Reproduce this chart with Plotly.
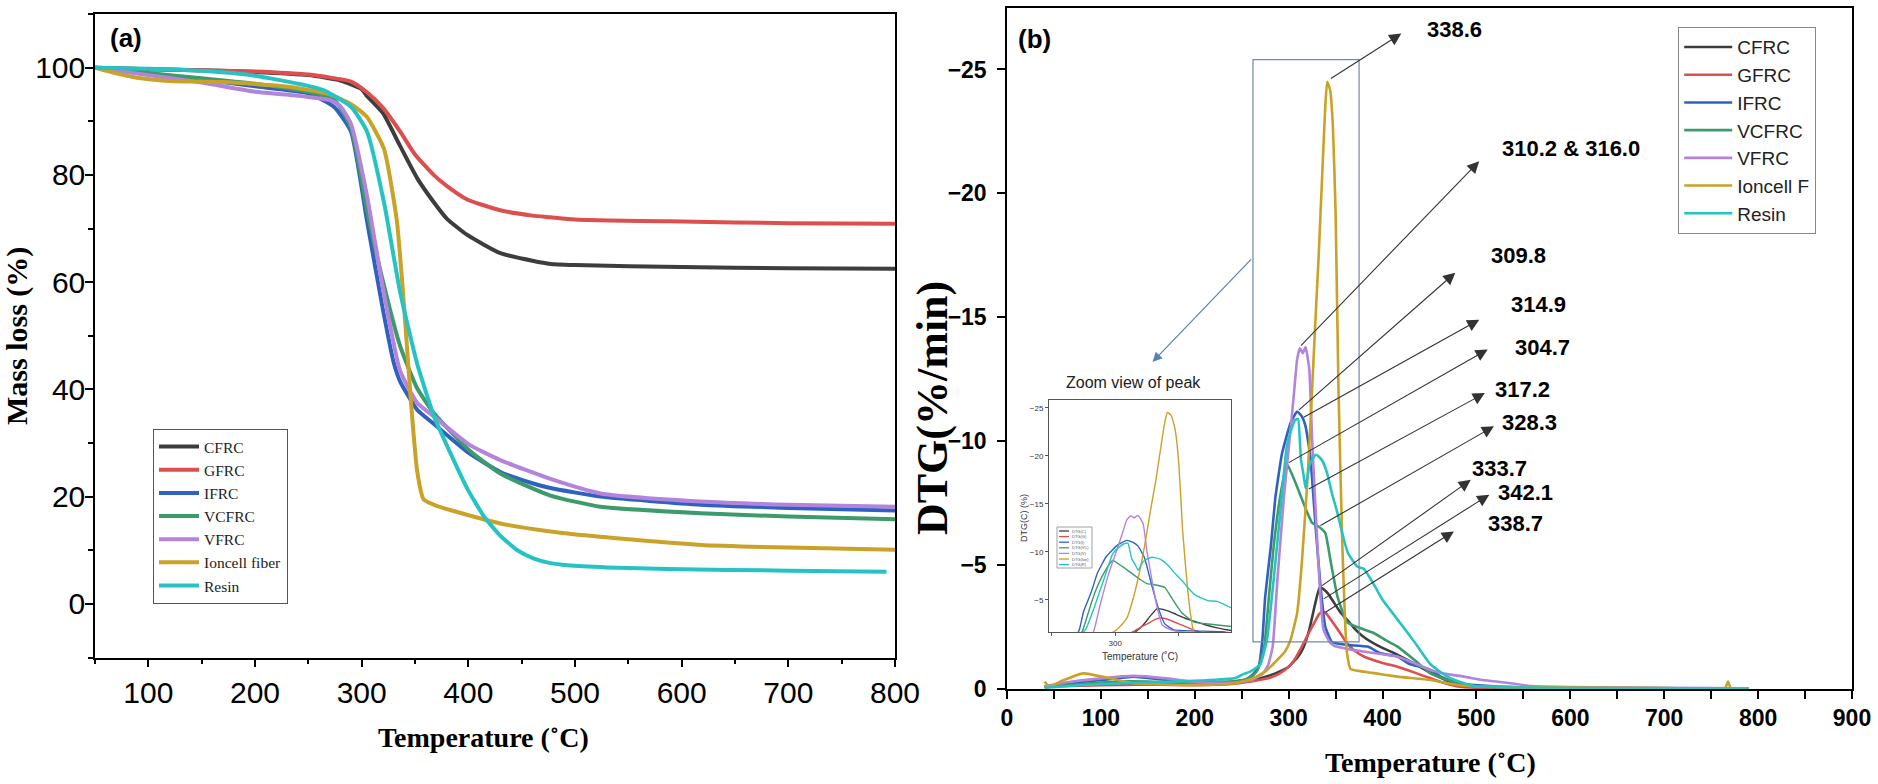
import plotly.graph_objects as go

W, H = 1878, 784

names_a = ["CFRC", "GFRC", "IFRC", "VCFRC", "VFRC", "Ioncell fiber", "Resin"]
names_b = ["CFRC", "GFRC", "IFRC", "VCFRC", "VFRC", "Ioncell F", "Resin"]
names_inset = ["DTG(C)", "DTG(G)", "DTG(I)", "DTG(VC)", "DTG(V)", "DTG(Ion)", "DTG(R)"]
colors = ["#3d3d3d", "#dc4f4f", "#2f62c0", "#3d9a6b", "#b384db", "#c9a227", "#27c3c3"]

# (a) TGA, mass loss (%) vs temperature (C)
tga_cfrc_t = [50, 100, 150, 200, 250, 280, 300, 305, 320, 336, 352, 368, 380, 399, 430, 460, 477, 500, 600, 700, 800]
tga_cfrc = [100, 99.7, 99.5, 99.2, 98.6, 97.6, 96.0, 94.7, 91.5, 85.4, 79.4, 74.8, 71.8, 68.8, 65.4, 64.0, 63.4, 63.2, 62.8, 62.6, 62.5]
tga_gfrc_t = [50, 100, 170, 200, 250, 290, 305, 320, 336, 350, 367, 380, 399, 430, 460, 477, 500, 600, 700, 800]
tga_gfrc = [100, 99.7, 99.4, 99.3, 98.7, 97.4, 95.4, 92.5, 88.1, 83.8, 80.1, 77.9, 75.4, 73.4, 72.4, 72.1, 71.7, 71.3, 71.0, 70.9]
tga_ifrc_t = [50, 75, 100, 150, 200, 250, 274, 290, 305, 320, 330, 336, 352, 368, 400, 430, 460, 477, 524, 618, 700, 800]
tga_ifrc = [100, 99.5, 98.8, 97.8, 96.5, 95.2, 92.7, 88.1, 71.4, 54.8, 45.0, 41.5, 36.2, 33.5, 28.2, 24.6, 22.5, 21.6, 20.0, 18.5, 17.9, 17.4]
tga_vcfrc_t = [50, 100, 150, 200, 250, 274, 290, 305, 320, 336, 352, 368, 400, 430, 477, 524, 618, 700, 800]
tga_vcfrc = [100, 99.0, 98.0, 97.0, 95.5, 94.1, 88.8, 73.4, 60.1, 48.1, 40.2, 35.5, 28.8, 24.3, 20.2, 18.1, 16.9, 16.3, 15.8]
tga_vfrc_t = [50, 100, 150, 200, 233, 271, 280, 290, 305, 320, 336, 352, 368, 400, 430, 477, 524, 618, 700, 800]
tga_vfrc = [100, 98.6, 97.2, 95.5, 94.9, 93.9, 92.8, 89.5, 76.1, 58.8, 43.5, 37.5, 34.9, 29.8, 26.8, 23.3, 20.6, 19.1, 18.5, 18.1]
tga_ion_t = [50, 75, 93, 120, 170, 233, 270, 290, 305, 321, 333, 340, 346, 352, 358, 370, 383, 430, 477, 524, 618, 700, 800]
tga_ion = [100, 98.7, 98.0, 97.5, 97.3, 96.4, 95.0, 93.2, 90.8, 84.8, 71.4, 54.8, 38.2, 24.8, 19.5, 18.3, 17.5, 15.0, 13.5, 12.5, 11.0, 10.5, 10.1]
tga_resin_t = [50, 100, 150, 200, 243, 264, 290, 305, 321, 336, 352, 368, 383, 399, 415, 430, 446, 461, 477, 493, 530, 587, 700, 792]
tga_resin = [100, 99.8, 99.4, 98.5, 96.9, 95.8, 92.7, 88.1, 74.8, 58.2, 44.8, 34.9, 28.2, 21.5, 16.2, 12.7, 10.0, 8.5, 7.6, 7.2, 6.8, 6.5, 6.2, 6.0]

# (b) DTG (%/min) vs temperature (C)
dtg_cfrc_t = [40, 60, 100, 150, 200, 240, 260, 280, 290, 300, 310, 316, 322, 328, 333, 338, 342, 348, 355, 362,
              370, 380, 395, 415, 435, 451, 465, 480, 500, 550, 600, 700, 790]
dtg_cfrc = [-0.1, -0.15, -0.2, -0.22, -0.2, -0.25, -0.35, -0.55, -0.7, -0.9, -1.3, -1.7, -2.4, -3.4, -4.1, -4.0, -3.85,
            -3.5, -3.1, -2.8, -2.45, -2.1, -1.75, -1.4, -1.0, -0.65, -0.4, -0.15, -0.08, -0.05, -0.04, -0.03, -0.02]
dtg_gfrc_t = [40, 60, 100, 150, 200, 240, 260, 280, 291, 300, 306, 316, 322, 327, 332, 336, 340, 345, 355, 362,
              370, 380, 400, 416, 435, 451, 465, 480, 500, 600, 700, 790]
dtg_gfrc = [-0.1, -0.12, -0.15, -0.18, -0.15, -0.2, -0.3, -0.45, -0.64, -0.9, -1.17, -1.85, -2.3, -2.65, -3.0, -3.13,
            -3.05, -2.79, -2.25, -1.85, -1.55, -1.31, -1.05, -0.9, -0.65, -0.43, -0.25, -0.1, -0.05, -0.03, -0.02, -0.02]
dtg_ifrc_t = [40, 60, 100, 135, 170, 200, 240, 255, 262, 268, 272, 275, 281, 286, 293, 302, 309, 314, 318, 323,
              329, 334, 339, 346, 362, 384, 398, 416, 427, 451, 462, 480, 498, 550, 650, 790]
dtg_ifrc = [-0.1, -0.2, -0.36, -0.5, -0.36, -0.25, -0.3, -0.4, -0.6, -0.9, -1.98, -3.73, -5.75, -7.77, -9.52, -10.73,
            -11.2, -11.0, -10.6, -9.4, -6.4, -4.1, -2.52, -1.9, -1.78, -1.71, -1.44, -1.31, -1.04, -0.77, -0.5, -0.23,
            -0.16, -0.06, -0.03, -0.02]
dtg_vcfrc_t = [40, 80, 117, 150, 200, 240, 255, 262, 267, 274, 279, 284, 291, 298, 306, 313, 320, 325, 332, 339,
               345, 352, 362, 373, 391, 402, 416, 434, 451, 480, 500, 550, 650, 790]
dtg_vcfrc = [-0.1, -0.2, -0.3, -0.3, -0.25, -0.3, -0.4, -0.55, -0.77, -1.71, -3.73, -5.75, -7.77, -9.1, -8.44, -7.77,
             -7.1, -6.7, -6.56, -6.3, -5.08, -3.73, -2.7, -2.5, -2.25, -2.0, -1.71, -1.17, -0.63, -0.23, -0.12, -0.06,
             -0.04, -0.02]
dtg_vfrc_t = [40, 60, 100, 135, 170, 206, 242, 260, 272, 278, 283, 288, 295, 302, 306, 309, 312, 315, 318, 322,
              325, 329, 333, 337, 342, 348, 365, 380, 400, 416, 430, 451, 469, 487, 505, 522, 558, 600, 700, 790]
dtg_vfrc = [-0.1, -0.25, -0.43, -0.53, -0.43, -0.26, -0.25, -0.35, -0.6, -0.95, -1.71, -4.4, -7.77, -10.46, -12.08,
            -13.3, -13.75, -13.55, -13.8, -12.9, -10.0, -7.0, -4.2, -2.4, -2.0, -1.75, -1.6, -1.51, -1.4, -1.31, -1.1,
            -0.77, -0.6, -0.5, -0.37, -0.3, -0.12, -0.08, -0.05, -0.03]
dtg_ion_t = [40, 45, 60, 81, 110, 135, 206, 242, 260, 275, 286, 296, 302, 309, 314, 320, 324, 328, 332, 336,
             339, 341, 344, 347, 350, 353, 357, 360, 362, 366, 380, 391, 416, 451, 480, 500, 600, 700, 765, 768,
             771, 790]
dtg_ion = [-0.3, -0.1, -0.35, -0.63, -0.43, -0.23, -0.16, -0.23, -0.4, -0.7, -1.1, -1.5, -1.98, -3.06, -5.08, -8.44,
           -11.3, -14.5, -17.5, -21.0, -23.5, -24.5, -24.2, -22.8, -19.2, -12.2, -6.0, -2.8, -1.5, -0.8, -0.7, -0.64,
           -0.5, -0.36, -0.16, -0.1, -0.06, -0.04, -0.05, -0.3, -0.03, -0.02]
dtg_resin_t = [40, 100, 152, 206, 242, 252, 259, 265, 270, 277, 284, 291, 298, 303, 307, 310, 313, 316, 318, 322,
               325, 329, 332, 336, 341, 346, 352, 357, 363, 373, 380, 391, 400, 416, 434, 451, 469, 487, 500, 550,
               650, 790]
dtg_resin = [-0.05, -0.2, -0.26, -0.34, -0.43, -0.6, -0.7, -0.85, -1.0, -2.0, -4.4, -7.1, -9.8, -10.5, -10.85, -10.9,
             -9.3, -8.6, -8.1, -9.0, -9.25, -9.45, -9.38, -9.2, -8.7, -7.9, -7.1, -6.3, -5.5, -4.94, -4.85, -4.2, -3.6,
             -2.8, -1.9, -1.0, -0.5, -0.23, -0.1, -0.06, -0.03, -0.02]

# peak temperatures marked in (b): label, point on the curve (T, DTG)
peak_labels = ["338.6", "310.2 & 316.0", "309.8", "314.9", "304.7", "317.2", "328.3", "333.7", "342.1", "338.7"]
peak_t = [343.4, 311.5, 309.2, 314.5, 298.5, 319.8, 332.3, 334.0, 335.8, 337.6]
peak_v = [-24.6, -13.8, -11.2, -10.93, -9.1, -8.04, -6.56, -4.13, -3.6, -3.06]

tga_t = [tga_cfrc_t, tga_gfrc_t, tga_ifrc_t, tga_vcfrc_t, tga_vfrc_t, tga_ion_t, tga_resin_t]
tga_v = [tga_cfrc, tga_gfrc, tga_ifrc, tga_vcfrc, tga_vfrc, tga_ion, tga_resin]
dtg_t = [dtg_cfrc_t, dtg_gfrc_t, dtg_ifrc_t, dtg_vcfrc_t, dtg_vfrc_t, dtg_ion_t, dtg_resin_t]
dtg_v = [dtg_cfrc, dtg_gfrc, dtg_ifrc, dtg_vcfrc, dtg_vfrc, dtg_ion, dtg_resin]


# layout helpers (pixel -> paper)
def px(x):
    return x / W


def py(y):
    return 1 - y / H


SERIF = "Liberation Serif"
SANS = "Liberation Sans"

# arrow heads and label centres for the peak call-outs (data coords of panel b)
head_t = [420, 503, 477.5, 503, 512, 509, 518.7, 494, 513.7, 476]
head_v = [-26.45, -21.3, -16.8, -14.9, -13.7, -11.94, -10.6, -8.44, -7.84, -6.36]
text_t = [476.5, 601, 545, 566, 570, 549, 557, 525, 552, 542]
text_v = [-26.6, -21.8, -17.5, -15.5, -13.8, -12.1, -10.76, -8.9, -7.94, -6.66]

fig = go.Figure()

for i in range(7):
    fig.add_trace(go.Scatter(
        x=tga_t[i], y=tga_v[i], name=names_a[i], mode="lines",
        line=dict(color=colors[i], width=4, shape="spline", smoothing=0.5),
        xaxis="x", yaxis="y", legend="legend",
    ))
for i in range(7):
    fig.add_trace(go.Scatter(
        x=dtg_t[i], y=dtg_v[i], name=names_b[i], mode="lines",
        line=dict(color=colors[i], width=2.6, shape="spline", smoothing=0.4),
        xaxis="x2", yaxis="y2", legend="legend2",
    ))
for i in range(7):
    fig.add_trace(go.Scatter(
        x=dtg_t[i], y=dtg_v[i], name=names_inset[i], mode="lines",
        line=dict(color=colors[i], width=1.4, shape="spline", smoothing=0.4),
        xaxis="x3", yaxis="y3", showlegend=False,
    ))

axis_common = dict(showline=True, linecolor="black", linewidth=1.5, mirror=True, showgrid=False,
                   zeroline=False, ticks="outside", tickcolor="black", tickwidth=1.5)


def label(text, x, y, size, family=SANS, bold=False, angle=0, color="black"):
    return dict(text=text, x=px(x), y=py(y), xref="paper", yref="paper", showarrow=False,
                xanchor="center", yanchor="middle", textangle=angle,
                font=dict(family=family, size=size, color=color, weight="bold" if bold else "normal"))


annotations = [
    label("(a)", 126, 38, 26, bold=True),
    label("(b)", 1034, 39, 26, bold=True),
    label("Mass loss (%)", 17, 336, 30, family=SERIF, bold=True, angle=-90),
    label("Temperature (˚C)", 484, 737, 28, family=SERIF, bold=True),
    label("DTG(%/min)", 932, 408, 44, family=SERIF, bold=True, angle=-90),
    label("Temperature (˚C)", 1430, 762, 28, family=SERIF, bold=True),
    label("Zoom view of peak", 1133, 383, 16, color="#222"),
    label("Temperature (˚C)", 1140, 656, 10, color="#333"),
    label("DTG(C) (%)", 1024, 518, 9, angle=-90, color="#333"),
    # blue pointer from the peak box to the inset
    dict(text="", x=155, y=-13.2, ax=261.5, ay=-17.4, xref="x2", yref="y2", axref="x2", ayref="y2",
         showarrow=True, arrowhead=2, arrowsize=1.6, arrowwidth=1.2, arrowcolor="#5b7fb8"),
]
for i, lab in enumerate(peak_labels):
    annotations.append(dict(text="", x=head_t[i], y=head_v[i], ax=peak_t[i], ay=peak_v[i],
                            xref="x2", yref="y2", axref="x2", ayref="y2", showarrow=True,
                            arrowhead=2, arrowsize=2.2, arrowwidth=1.1, arrowcolor="#333"))
    annotations.append(dict(text=lab, x=text_t[i], y=text_v[i], xref="x2", yref="y2", showarrow=False,
                            font=dict(family=SANS, size=22, color="black", weight="bold")))

shapes = [
    dict(type="rect", xref="x2", yref="y2", x0=262, x1=375, y0=-1.9, y1=-25.4,
         line=dict(color="#6f8aa6", width=1.2)),
    dict(type="rect", xref="paper", yref="paper", x0=px(1057), x1=px(1092), y0=py(568), y1=py(527),
         line=dict(color="#888", width=0.8)),
]
# tiny legend inside the inset
for i, nm in enumerate(names_inset):
    yy = 531 + i * 5.6
    shapes.append(dict(type="line", xref="paper", yref="paper", x0=px(1059), x1=px(1069),
                       y0=py(yy), y1=py(yy), line=dict(color=colors[i], width=1.3)))
    annotations.append(dict(text=nm, x=px(1070), y=py(yy), xref="paper", yref="paper", showarrow=False,
                            xanchor="left", yanchor="middle", font=dict(family=SANS, size=4, color="#555")))

fig.update_layout(
    width=W, height=H, margin=dict(l=0, r=0, t=0, b=0, autoexpand=False),
    paper_bgcolor="white", plot_bgcolor="white",
    font=dict(family=SANS, color="black"),
    xaxis=dict(domain=[px(95), px(895)], range=[50, 800], tick0=0, dtick=100, ticklen=8,
               minor=dict(dtick=50, ticklen=5, ticks="outside", tickcolor="black", tickwidth=1.5),
               tickfont=dict(family=SANS, size=30), ticklabelstandoff=0, anchor="y", **axis_common),
    yaxis=dict(domain=[py(657.5), py(14)], range=[-10, 110], tick0=0, dtick=20, ticklen=8,
               minor=dict(dtick=10, ticklen=5, ticks="outside", tickcolor="black", tickwidth=1.5),
               tickfont=dict(family=SANS, size=30), ticklabelstandoff=-6, anchor="x", **axis_common),
    xaxis2=dict(domain=[px(1007), px(1852)], range=[0, 900], tick0=0, dtick=100, ticklen=8,
                minor=dict(dtick=50, ticklen=8, ticks="outside", tickcolor="black", tickwidth=1.5),
                tickfont=dict(family=SANS, size=23, weight="bold"), ticklabelstandoff=0, anchor="y2",
                **axis_common),
    yaxis2=dict(domain=[py(689), py(7.5)], range=[0, -27.5], tickvals=[0, -5, -10, -15, -20, -25], ticklen=8,
                tickfont=dict(family=SANS, size=23, weight="bold"), ticklabelstandoff=6, anchor="x2",
                **axis_common),
    xaxis3=dict(domain=[px(1049), px(1231)], range=[248, 391], tickvals=[250, 300, 350], ticktext=["", "300", ""],
                showline=True, linecolor="#555", linewidth=1, mirror=True, showgrid=False, zeroline=False,
                ticks="outside", ticklen=3, tickcolor="#555", tickfont=dict(family=SANS, size=8, color="#333"),
                anchor="y3"),
    yaxis3=dict(domain=[py(632), py(400)], range=[-1.67, -25.8], tickvals=[-25, -20, -15, -10, -5],
                showline=True, linecolor="#555", linewidth=1, mirror=True, showgrid=False, zeroline=False,
                ticks="outside", ticklen=3, tickcolor="#555", tickfont=dict(family=SANS, size=8, color="#333"),
                anchor="x3"),
    legend=dict(x=px(153), y=py(429), xanchor="left", yanchor="top", bordercolor="#555", borderwidth=1,
                bgcolor="rgba(255,255,255,0)", font=dict(family=SERIF, size=15.5, color="#222"),
                itemwidth=40, tracegroupgap=0),
    legend2=dict(x=px(1678), y=py(27), xanchor="left", yanchor="top", bordercolor="#888", borderwidth=1.2,
                 bgcolor="rgba(255,255,255,0)", font=dict(family=SANS, size=19, color="#222"),
                 itemwidth=48, tracegroupgap=0),
    annotations=annotations,
    shapes=shapes,
)

fig.write_html("out.html", config={"displayModeBar": False},
               post_script="document.body.style.margin='0';")
